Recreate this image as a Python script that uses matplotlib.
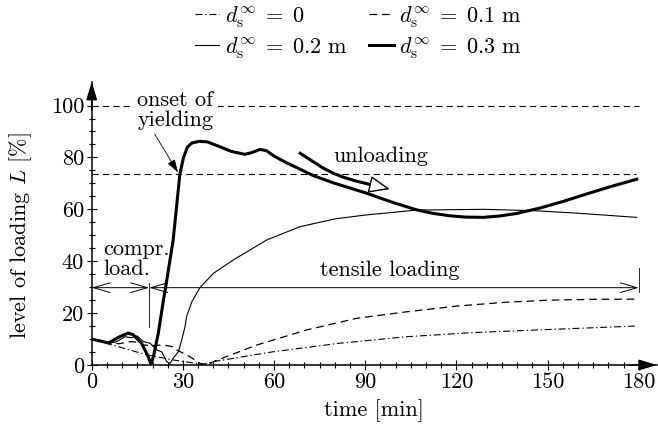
import matplotlib
matplotlib.use('agg')
from matplotlib import pyplot as plt

plt.rcParams['font.family'] = 'serif'
plt.rcParams['font.serif'] = ['cmr10']
plt.rcParams['mathtext.fontset'] = 'cm'
plt.rcParams['axes.unicode_minus'] = False
plt.rcParams['lines.scale_dashes'] = False

# d_s = 0 (dash-dot)
T0 = [0, 18.1, 28, 36.7, 40, 59.7, 81.7, 103.6, 125.5, 150.8, 178.7]
L0 = [10, 3.9, 1.7, 0.2, 1.3, 5.1, 8.4, 10.9, 12.5, 13.7, 15]

# d_s = 0.1 m (dashed)
T1 = [0, 3, 6, 9, 12.6, 15, 17, 20, 23.6, 26.8, 28, 32.3, 35.6, 38.5, 40,
      54.3, 70.7, 87.2, 103.6, 120, 136.5, 150.8, 165, 180]
L1 = [10, 9, 8.4, 8.2, 9, 8.8, 7.7, 7.5, 7.7, 7, 5.8, 3.2, 0.6, 0.1, 1.3,
      7.7, 13.5, 18, 20.5, 22.7, 24.2, 25, 25.3, 25.4]

# d_s = 0.2 m (thin solid)
T2 = [0, 3, 5.5, 8.2, 11, 13, 15, 17, 19.2, 21.4, 23, 24.7, 25.8, 26.8, 28.5,
      29.6, 30.7, 31.2, 33, 35.6, 40, 46.6, 57.6, 68.5, 80, 90, 106.9, 128.8,
      145.2, 160, 179.3]
L2 = [10, 9, 8.3, 9, 10.9, 10.5, 11.2, 9, 8.4, 5.8, 5.1, 1.3, 0.6, 2.6, 5.1,
      9.6, 14.8, 18.6, 24.5, 29.8, 35.3, 40.5, 48.2, 53.3, 56.3, 57.8, 59.7, 60,
      59.5, 58.5, 56.9]

# d_s = 0.3 m (thick solid)
T3 = [0, 3, 5.5, 9, 12, 13.7, 16.4, 18.6, 19.5, 20.3, 21.9, 23.6, 24.3, 26.8,
      29.0, 30.2, 31.5, 33, 35.4, 38, 42.2, 46, 50.4, 52.5, 55.4, 57.5, 60, 64,
      68.5, 72.9, 79.5, 85, 90.5, 95, 100, 106.9, 112, 117.9, 123, 128.8, 134,
      139.8, 147.5, 155, 161.7, 170, 179.3]
L3 = [10, 9.2, 8.5, 10.8, 12.3, 11.6, 8.4, 3.2, 0.3, 3.2, 12.2, 25, 29.8, 48.2,
      73.5, 80, 84, 85.6, 86.2, 86, 84.1, 82.3, 81.2, 81.8, 83.1, 82.6, 80.5, 78,
      75.5, 73, 70.2, 68.2, 66.2, 64.3, 62.3, 59.8, 58.5, 57.5, 57, 56.9, 57.4,
      58.4, 60.5, 63, 65.5, 68.5, 71.6]

# unloading branch of d_s = 0.3 m
TU = [68.6, 72, 76, 79.5, 83, 87, 91.5]
LU = [81.6, 79, 76, 73.9, 72.3, 70.9, 69.6]

LABELS = [r'$d_\mathrm{s}^\infty\;=\;0$', r'$d_\mathrm{s}^\infty\;=\;0.1\ \mathrm{m}$',
          r'$d_\mathrm{s}^\infty\;=\;0.2\ \mathrm{m}$', r'$d_\mathrm{s}^\infty\;=\;0.3\ \mathrm{m}$']

YIELD = 100
LIMIT = 73.5
T_SWITCH = 18.9
T_END = 180

fig = plt.figure(figsize=(6.58, 4.34), dpi=100)
ax = fig.add_axes([0.1394, 0.159, 0.8591, 0.6528])
ax.set_xlim(0, 186)
ax.set_ylim(0, 109.2)

h0, = ax.plot(T0, L0, color='k', lw=0.8, dashes=(5, 2, 1, 2))
h1, = ax.plot(T1, L1, color='k', lw=0.9, dashes=(5.5, 3.5))
h2, = ax.plot(T2, L2, color='k', lw=0.8)
h3, = ax.plot(T3, L3, color='k', lw=2.2, solid_joinstyle='round')
ax.plot(TU, LU, color='k', lw=2.2, solid_joinstyle='round')
ax.annotate('', xy=(98.1, 67.8), xytext=(TU[-1], LU[-1]),
            arrowprops=dict(arrowstyle='-|>,head_length=1.1,head_width=0.45',
                            fc='white', ec='k', lw=1.0, mutation_scale=12,
                            shrinkA=0, shrinkB=0))

# reference levels
ax.plot([0, 180], [YIELD, YIELD], color='k', lw=0.8, dashes=(4.5, 3))
ax.plot([0, 179], [LIMIT, LIMIT], color='k', lw=0.8, dashes=(4.5, 3))

# load phases
ax.plot([T_SWITCH, T_SWITCH], [14.8, 31.5], color='k', lw=0.6)
ax.plot([T_END, T_END], [28, 37.4], color='k', lw=0.6)
for a, b in [(0, T_SWITCH), (T_SWITCH, T_END)]:
    ax.annotate('', xy=(b, 29.8), xytext=(a, 29.8),
                arrowprops=dict(arrowstyle='<->,head_length=1.2,head_width=0.35',
                                color='k', lw=0.7, mutation_scale=10,
                                shrinkA=0, shrinkB=0))

fs = 16
ax.text(3.7, 40.8, 'compr.\nload.', fontsize=fs, va='center', ha='left',
        linespacing=1.0)
ax.text(98, 36.6, 'tensile loading', fontsize=fs, va='center', ha='center')
ax.text(95.2, 80.3, 'unloading', fontsize=fs, va='center', ha='center')
ax.text(15.0, 98.1, 'onset of\nyielding', fontsize=fs, va='center', ha='left',
        linespacing=1.0,
        bbox=dict(fc='white', ec='none', pad=3))
ax.annotate('', xy=(28.4, 74.2), xytext=(20.7, 89),
            arrowprops=dict(arrowstyle='-|>,head_length=0.8,head_width=0.25',
                            color='k', lw=0.6, mutation_scale=10,
                            shrinkA=0, shrinkB=0))

# axes
for s in ['top', 'right']:
    ax.spines[s].set_visible(False)
for s in ['left', 'bottom']:
    ax.spines[s].set_linewidth(1.1)
ax.annotate('', xy=(0, 1), xycoords='axes fraction', xytext=(0, 0.9),
            arrowprops=dict(arrowstyle='-|>,head_length=1.1,head_width=0.33',
                            color='k', lw=1.1, mutation_scale=10,
                            shrinkA=0, shrinkB=0))
ax.annotate('', xy=(1, 0), xycoords='axes fraction', xytext=(0.95, 0),
            arrowprops=dict(arrowstyle='-|>,head_length=1.1,head_width=0.33',
                            color='k', lw=1.1, mutation_scale=10,
                            shrinkA=0, shrinkB=0))

ax.set_xticks(range(0, 181, 30))
ax.set_xticks(range(0, 181, 5), minor=True)
ax.set_yticks(range(0, 101, 20))
ax.set_yticks(range(0, 101, 5), minor=True)
ax.tick_params(which='major', direction='inout', length=7, width=0.8,
               labelsize=fs, pad=2)
ax.tick_params(which='minor', direction='inout', length=4.5, width=0.8)

ax.set_xlabel('time [min]', fontsize=fs, labelpad=5)
ax.set_ylabel('level of loading $L$ [%]', fontsize=fs)
ax.yaxis.set_label_coords(-0.102, 0.5 - 12 / 283)

fig.legend([h0, h2, h1, h3], [LABELS[0], LABELS[2], LABELS[1], LABELS[3]],
           ncol=2, frameon=False, fontsize=fs, loc='upper left',
           bbox_to_anchor=(195 / 658, 1 - 4 / 434), borderaxespad=0,
           borderpad=0, handlelength=1.1, handletextpad=0.25,
           columnspacing=1.0, labelspacing=0.25)

fig.savefig('out.png', dpi=100)
